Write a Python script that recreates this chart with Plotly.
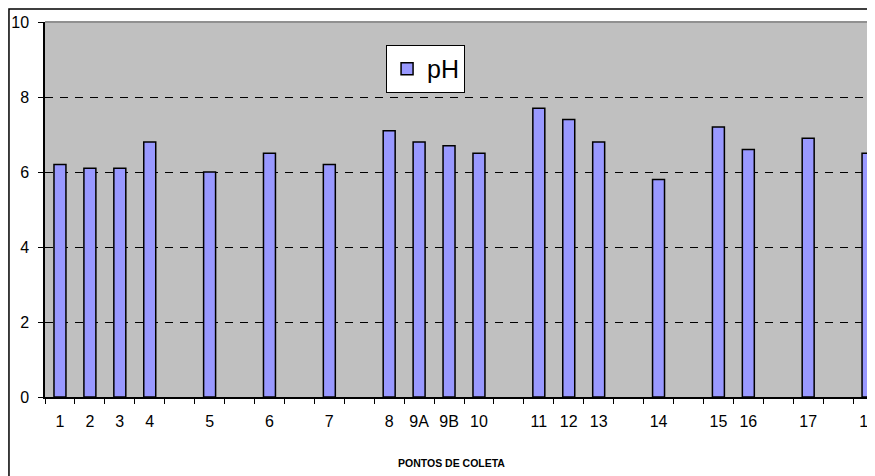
import plotly.graph_objects as go

categories = ["1", "2", "3", "4", "", "5", "", "6", "", "7", "", "8", "9A", "9B", "10", "",
              "11", "12", "13", "", "14", "", "15", "16", "", "17", "", "18"]
ph = [6.2, 6.1, 6.1, 6.8, None, 6.0, None, 6.5, None, 6.2, None, 7.1, 6.8, 6.7, 6.5, None,
      7.7, 7.4, 6.8, None, 5.8, None, 7.2, 6.6, None, 6.9, None, 6.5]
y_ticks = [0, 2, 4, 6, 8, 10]

# unique names for the empty slots
x_names = [c if c else " " * (i + 1) for i, c in enumerate(categories)]

FONT = "Liberation Sans, Arial, sans-serif"

fig = go.Figure()
fig.add_trace(go.Bar(
    x=x_names, y=ph, name="pH",
    marker=dict(color="#9999FF", line=dict(color="black", width=1.5)),
))

fig.update_layout(
    width=875, height=476,
    margin=dict(l=37, r=0, t=14, b=87),
    paper_bgcolor="white",
    plot_bgcolor="#C0C0C0",
    bargap=0.6,
    font=dict(family=FONT, size=16, color="black"),
    showlegend=True,
    legend=dict(x=0.407, y=0.9387, xanchor="left", yanchor="top",
                bgcolor="white", bordercolor="black", borderwidth=1,
                font=dict(size=25, family=FONT, color="black")),
    xaxis=dict(
        type="category", categoryorder="array", categoryarray=x_names,
        range=[-0.5, 27.5], automargin=False, tickangle=0,
        tickson="boundaries", ticks="outside", ticklen=5, tickcolor="black",
        showline=True, linecolor="black", linewidth=1.5,
        showgrid=False, tickfont=dict(size=16), ticklabelstandoff=9,
    ),
    yaxis=dict(
        range=[0, 10], tickvals=y_ticks, automargin=False,
        ticks="outside", ticklen=5, tickcolor="black",
        showline=True, linecolor="black", linewidth=1.5,
        showgrid=True, gridcolor="black", gridwidth=1, griddash="8px,7px",
        zeroline=False, tickfont=dict(size=16), ticklabelstandoff=6,
    ),
    shapes=[
        dict(type="line", xref="paper", yref="paper", x0=0, x1=1, y0=1, y1=1,
             line=dict(color="#909090", width=2), layer="above"),
        dict(type="rect", xref="paper", yref="paper", x0=-0.043, x1=1.2,
             y0=-0.3, y1=1.0347, line=dict(color="black", width=1.5)),
    ],
    annotations=[
        dict(text="<b>PONTOS DE COLETA</b>", xref="paper", yref="paper",
             x=0.485, y=-0.176, showarrow=False, xanchor="center", yanchor="middle",
             font=dict(size=10.5, family=FONT, color="black")),
    ],
)

fig.write_html("out.html")
